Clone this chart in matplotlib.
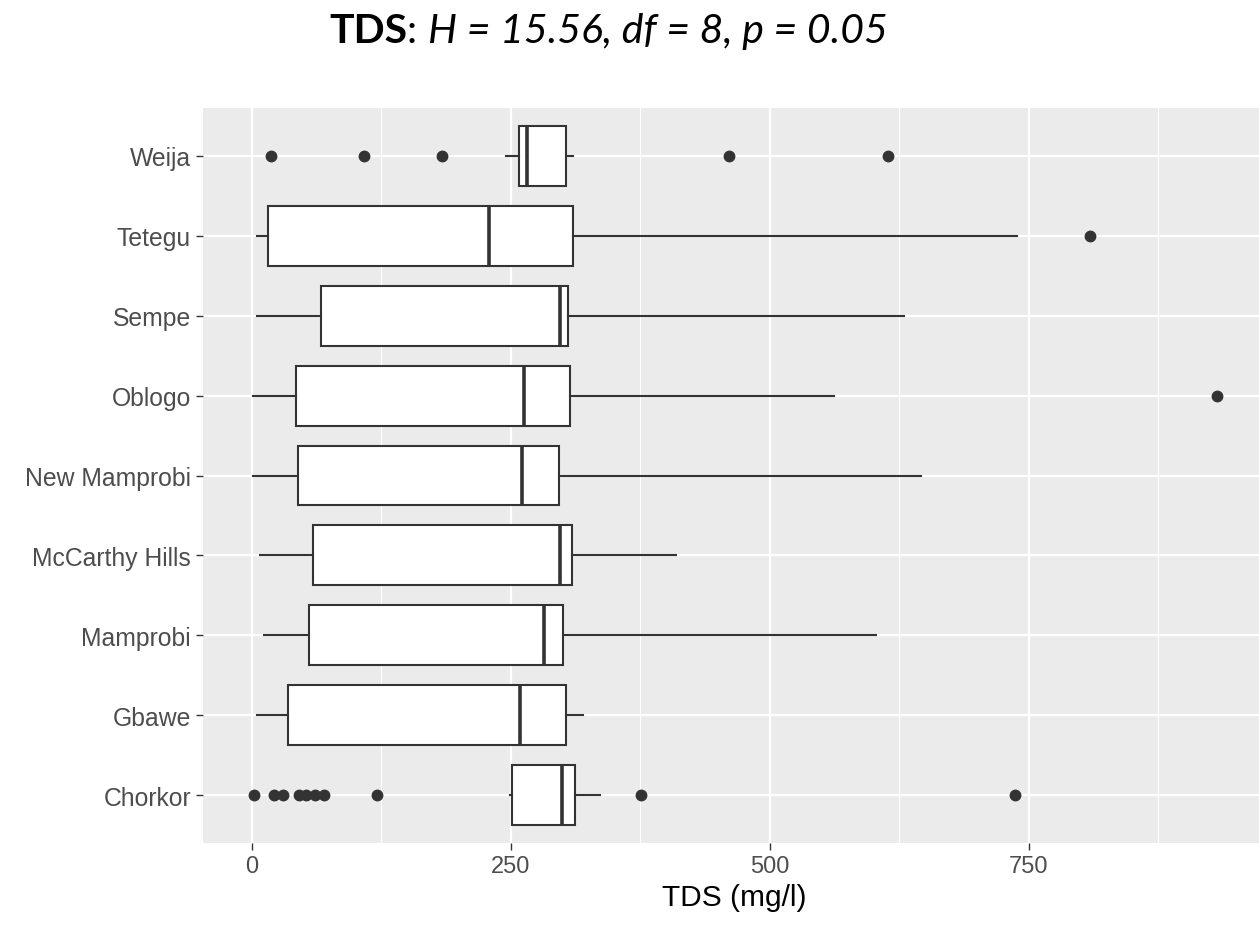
import matplotlib
matplotlib.use("Agg")
import matplotlib.pyplot as plt

# ---- data ----
sites = ["Chorkor", "Gbawe", "Mamprobi", "McCarthy Hills", "New Mamprobi",
         "Oblogo", "Sempe", "Tetegu", "Weija"]
whisker_low = [249.5, 5.4, 11.6, 7.7, 1.0, 1.0, 5.4, 5.4, 245.5]
q1 = [251.0, 34.7, 55.0, 59.5, 45.0, 43.0, 67.0, 16.0, 258.0]
median = [300.0, 259.0, 282.0, 298.0, 261.0, 263.0, 297.6, 229.0, 265.4]
q3 = [312.0, 303.4, 301.0, 309.5, 297.0, 307.0, 305.0, 310.0, 303.4]
whisker_high = [336.0, 320.0, 603.0, 410.0, 646.0, 562.0, 630.0, 739.0, 309.8]
outliers = [
    [2, 21.5, 30, 45.6, 52.4, 61, 70, 120.6, 376, 737],  # Chorkor
    [],                                                 # Gbawe
    [],                                                 # Mamprobi
    [],                                                 # McCarthy Hills
    [],                                                 # New Mamprobi
    [932],                                              # Oblogo
    [],                                                 # Sempe
    [809],                                              # Tetegu
    [18.3, 108, 184, 461, 614],                         # Weija
]
x_ticks = [0, 250, 500, 750]
x_minor_ticks = [125, 375, 625, 875]
x_label = "TDS (mg/l)"
title_parts = [("TDS", "normal", "bold"), (": ", "normal", "normal"),
               ("H = 15.56, df = 8, p = 0.05", "italic", "normal")]

# ---- figure ----
W, H, DPI = 1259, 928, 100
fig = plt.figure(figsize=(W / DPI, H / DPI), dpi=DPI)
fig.patch.set_facecolor("white")
ax = fig.add_axes([203.4 / W, (H - 844) / H, 1062 / W, (844 - 109) / H])
ax.set_facecolor("#EBEBEB")

stats = []
for i, s in enumerate(sites):
    stats.append(dict(label=s, whislo=whisker_low[i], q1=q1[i], med=median[i],
                      q3=q3[i], whishi=whisker_high[i], fliers=outliers[i]))

dark = "#333333"
kw = dict(positions=list(range(1, len(sites) + 1)), widths=0.75,
          patch_artist=True, showcaps=False,
          boxprops=dict(facecolor="white", edgecolor=dark, linewidth=1.5),
          medianprops=dict(color=dark, linewidth=2.6, solid_capstyle="butt"),
          whiskerprops=dict(color=dark, linewidth=1.5),
          flierprops=dict(marker="o", markerfacecolor=dark, markeredgecolor=dark,
                          markersize=7.5, linestyle="none"),
          zorder=3)
try:
    ax.bxp(stats, orientation="horizontal", **kw)
except TypeError:
    ax.bxp(stats, vert=False, **kw)

ax.set_xlim(-46.6, 978.6)
ax.set_ylim(0.4, len(sites) + 0.6)
ax.set_xticks(x_ticks)
ax.set_xticks(x_minor_ticks, minor=True)
ax.set_yticks(range(1, len(sites) + 1))
ax.set_yticklabels(sites)

ax.grid(which="major", color="white", linewidth=1.6, zorder=0)
ax.grid(which="minor", axis="x", color="white", linewidth=0.8, zorder=0)
ax.set_axisbelow(True)
for sp in ax.spines.values():
    sp.set_visible(False)

ax.tick_params(axis="both", which="major", length=5, width=1.0, color=dark,
               labelcolor="#4D4D4D", labelsize=17, pad=4,
               labelfontfamily="Liberation Sans")
ax.tick_params(axis="y", which="major", labelsize=17.8)
ax.tick_params(axis="x", which="minor", length=0)
ax.set_xlabel(x_label, fontsize=21.5, family="Liberation Sans", color="black",
              labelpad=4)

# ---- title with mixed styles ----
prev = None
x0, y0 = 329 / W, 1 - 43 / H
for txt, style, weight in title_parts:
    if prev is None:
        prev = fig.text(x0, y0, txt, fontsize=29.5, family="Lato", style=style,
                        weight=weight, ha="left", va="baseline")
    else:
        prev = ax.annotate(txt, xy=(1, 0), xycoords=prev, ha="left", va="bottom",
                           fontsize=29.5, family="Lato", style=style,
                           weight=weight, annotation_clip=False)

fig.savefig("out.png", dpi=DPI)
